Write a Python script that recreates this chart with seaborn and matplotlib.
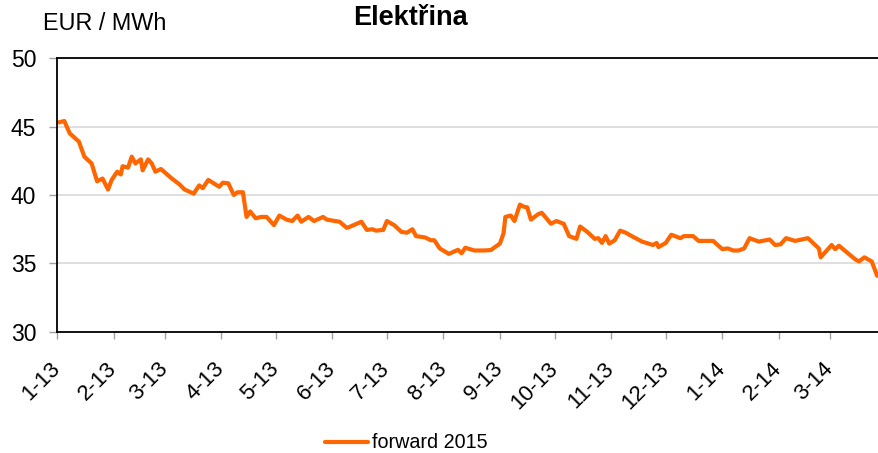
import pandas as pd
import matplotlib.pyplot as plt
import matplotlib.dates as mdates
import seaborn as sns

# values (forward 2015, EUR/MWh)
dates = [
    "2013-01-02", "2013-01-05", "2013-01-08", "2013-01-13", "2013-01-16", "2013-01-20",
    "2013-01-23", "2013-01-26", "2013-01-29", "2013-01-31", "2013-02-03", "2013-02-05",
    "2013-02-06", "2013-02-09", "2013-02-11", "2013-02-13", "2013-02-16", "2013-02-17",
    "2013-02-20", "2013-02-22", "2013-02-24", "2013-02-27", "2013-03-05", "2013-03-09",
    "2013-03-12", "2013-03-17", "2013-03-20", "2013-03-22", "2013-03-25", "2013-03-28",
    "2013-03-31", "2013-04-02", "2013-04-05", "2013-04-08", "2013-04-10", "2013-04-13",
    "2013-04-15", "2013-04-17", "2013-04-20", "2013-04-23", "2013-04-26", "2013-04-30",
    "2013-05-03", "2013-05-07", "2013-05-10", "2013-05-13", "2013-05-15", "2013-05-19",
    "2013-05-22", "2013-05-27", "2013-05-29", "2013-06-05", "2013-06-09", "2013-06-11",
    "2013-06-17", "2013-06-20", "2013-06-23", "2013-06-25", "2013-06-29", "2013-07-01",
    "2013-07-05", "2013-07-09", "2013-07-12", "2013-07-15", "2013-07-17", "2013-07-22",
    "2013-07-25", "2013-07-27", "2013-07-30", "2013-08-04", "2013-08-09", "2013-08-11",
    "2013-08-13", "2013-08-18", "2013-08-23", "2013-08-27", "2013-09-01", "2013-09-03",
    "2013-09-04", "2013-09-07", "2013-09-09", "2013-09-12", "2013-09-14", "2013-09-16",
    "2013-09-18", "2013-09-22", "2013-09-24", "2013-09-29", "2013-10-02", "2013-10-06",
    "2013-10-09", "2013-10-13", "2013-10-15", "2013-10-19", "2013-10-23", "2013-10-25",
    "2013-10-27", "2013-10-29", "2013-10-31", "2013-11-03", "2013-11-06", "2013-11-09",
    "2013-11-13", "2013-11-18", "2013-11-24", "2013-11-26", "2013-11-27", "2013-12-01",
    "2013-12-04", "2013-12-07", "2013-12-09", "2013-12-11", "2013-12-16", "2013-12-19",
    "2013-12-27", "2014-01-01", "2014-01-04", "2014-01-07", "2014-01-10", "2014-01-13",
    "2014-01-16", "2014-01-21", "2014-01-27", "2014-01-30", "2014-02-02", "2014-02-05",
    "2014-02-10", "2014-02-17", "2014-02-23", "2014-02-24", "2014-02-26", "2014-03-02",
    "2014-03-04", "2014-03-06", "2014-03-11", "2014-03-15", "2014-03-17", "2014-03-20",
    "2014-03-24", "2014-03-25", "2014-03-27",
]
prices = [
    45.3, 45.4, 44.5, 43.9, 42.8, 42.3,
    41.0, 41.2, 40.4, 41.1, 41.7, 41.5,
    42.1, 42.0, 42.8, 42.3, 42.6, 41.8,
    42.6, 42.3, 41.7, 41.9, 41.2, 40.8,
    40.4, 40.1, 40.7, 40.5, 41.1, 40.85,
    40.6, 40.9, 40.85, 40.0, 40.2, 40.2,
    38.4, 38.8, 38.3, 38.4, 38.4, 37.8,
    38.5, 38.2, 38.1, 38.5, 38.05, 38.4,
    38.1, 38.4, 38.2, 38.05, 37.6, 37.7,
    38.05, 37.45, 37.5, 37.4, 37.45, 38.1,
    37.8, 37.3, 37.25, 37.5, 37.0, 36.9,
    36.7, 36.7, 36.1, 35.7, 36.0, 35.75,
    36.15, 35.95, 35.95, 35.98, 36.45, 37.2,
    38.4, 38.5, 38.1, 39.3, 39.15, 39.1,
    38.2, 38.6, 38.7, 37.9, 38.1, 37.9,
    37.0, 36.8, 37.7, 37.3, 36.8, 36.85,
    36.5, 37.0, 36.45, 36.7, 37.4, 37.25,
    36.95, 36.6, 36.35, 36.5, 36.2, 36.5,
    37.1, 36.95, 36.85, 37.0, 37.0, 36.65,
    36.65, 36.05, 36.1, 35.95, 35.95, 36.1,
    36.85, 36.6, 36.75, 36.35, 36.4, 36.85,
    36.65, 36.85, 36.1, 35.45, 35.75, 36.35,
    36.05, 36.3, 35.75, 35.3, 35.15, 35.45,
    35.15, 34.8, 34.1,
]
series_name = "forward 2015"

df = pd.DataFrame({"date": pd.to_datetime(dates), "price": prices})

sns.set_theme(style="white")
plt.rcParams['font.family'] = ['Liberation Sans', 'DejaVu Sans']
plt.rcParams['text.color'] = 'black'

fig = plt.figure(figsize=(8.79, 4.53), dpi=100)
ax = fig.add_axes([57 / 879, 121 / 453, 822 / 879, 274 / 453])

sns.lineplot(data=df, x="date", y="price", color="#FF6600", linewidth=3,
             label=series_name, legend=False, ax=ax)

ax.set_xlim(pd.Timestamp("2013-01-01"), pd.Timestamp("2014-03-28"))
ax.set_ylim(30, 50)
ax.set_yticks([30, 35, 40, 45, 50])
ax.yaxis.grid(True, color="#d9d9d9", linewidth=1.2)
ax.set_axisbelow(True)

ax.xaxis.set_major_locator(mdates.MonthLocator())
ax.xaxis.set_major_formatter(plt.FuncFormatter(
    lambda v, pos: f"{mdates.num2date(v).month}-{mdates.num2date(v):%y}"))

for side in ["left", "bottom", "top"]:
    ax.spines[side].set_color("black")
    ax.spines[side].set_linewidth(1.3)
ax.spines["right"].set_visible(False)

ax.tick_params(axis="y", length=6, width=1, color="#a0a0a0", labelcolor="black",
               labelsize=16.5, pad=9, left=True)
ax.tick_params(axis="x", length=5, width=1, color="#a0a0a0", labelcolor="black",
               labelsize=16, pad=19, bottom=True)
plt.setp(ax.get_xticklabels(), rotation=45, ha="right", va="center",
         rotation_mode="anchor")
ax.set_xlabel("")
ax.set_ylabel("")

fig.text(43 / 879, 1 - 24 / 453, "EUR / MWh", fontsize=16.8, va="center", ha="left")
fig.text(410 / 879, 1 - 18 / 453, "Elektřina", fontsize=19.5, fontweight="bold",
         va="center", ha="center")

handles, labels = ax.get_legend_handles_labels()
fig.legend(handles, labels, loc="center", bbox_to_anchor=(406 / 879, 1 - 443 / 453),
           frameon=False, fontsize=14.2, handlelength=2.2, handletextpad=0.2)

plt.savefig("out.png", dpi=100)
